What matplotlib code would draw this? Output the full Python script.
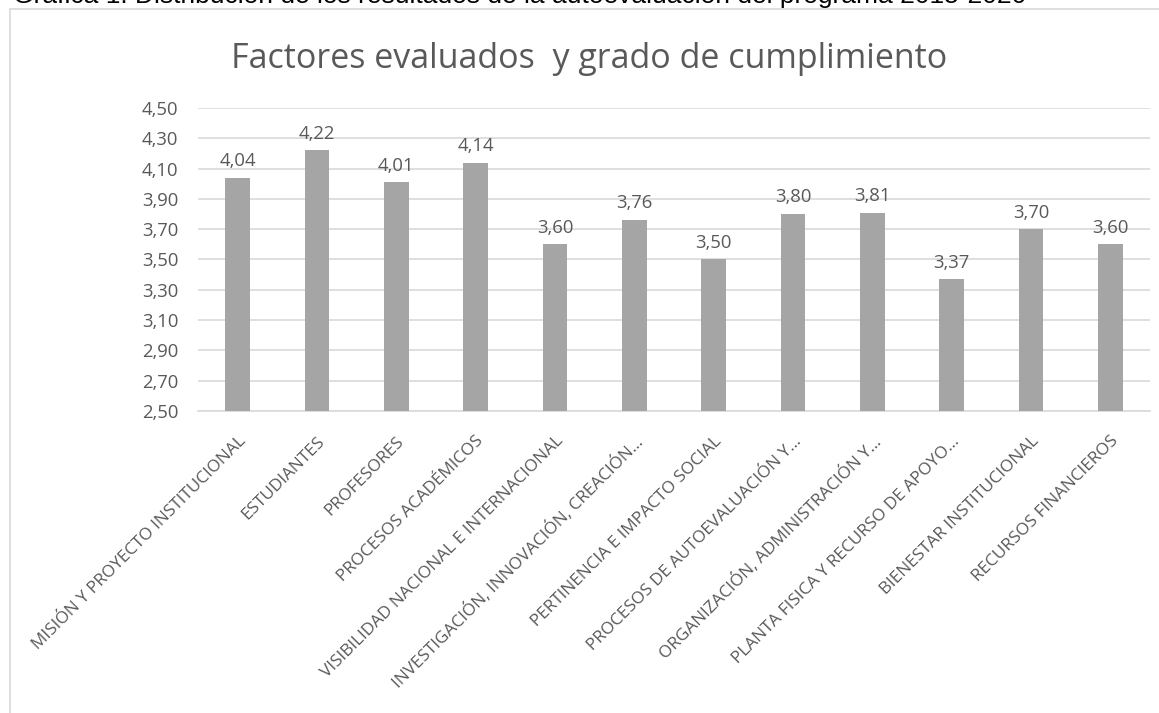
import matplotlib.pyplot as plt
from matplotlib.patches import Rectangle

# datos
factores = [
    'MISIÓN Y PROYECTO INSTITUCIONAL',
    'ESTUDIANTES',
    'PROFESORES',
    'PROCESOS ACADÉMICOS',
    'VISIBILIDAD NACIONAL E INTERNACIONAL',
    'INVESTIGACIÓN, INNOVACIÓN, CREACIÓN…',
    'PERTINENCIA E IMPACTO SOCIAL',
    'PROCESOS DE AUTOEVALUACIÓN Y…',
    'ORGANIZACIÓN, ADMINISTRACIÓN Y…',
    'PLANTA FISICA Y RECURSO DE APOYO…',
    'BIENESTAR INSTITUCIONAL',
    'RECURSOS FINANCIEROS',
]
valores = [4.04, 4.22, 4.01, 4.14, 3.60, 3.76, 3.50, 3.80, 3.81, 3.37, 3.70, 3.60]
yticks = [2.5 + 0.2 * i for i in range(11)]

titulo = 'Factores evaluados  y grado de cumplimiento'
leyenda = 'Gráfica 1. Distribución de los resultados de la autoevaluación del programa 2015-2020'

plt.rcParams['font.family'] = ['Open Sans', 'DejaVu Sans']
gris = '#595959'

fig = plt.figure(figsize=(11.59, 7.13), dpi=100)
W, H = 1159, 713

# marco del grafico
fig.patches.append(Rectangle((9.5 / W, -0.1), 1.2, 1 - 9 / H + 0.1,
                             transform=fig.transFigure, fill=False,
                             edgecolor='#d9d9d9', lw=1.2))

# leyenda superior (recortada en la imagen original)
fig.text(13 / W, 1 - 3 / H, leyenda, family='Liberation Sans', fontsize=19,
         color='black', ha='left', va='baseline')

ax = fig.add_axes([198 / W, 1 - 411 / H, (1150 - 198) / W, (411 - 108) / H])
x = range(len(factores))
bars = ax.bar(x, valores, width=0.31, color='#a5a5a5', zorder=3)
ax.set_ylim(2.5, 4.5)
ax.set_xlim(-0.5, len(factores) - 0.5)
ax.set_yticks(yticks)
ax.set_yticklabels([f'{v:.2f}'.replace('.', ',') for v in yticks])
ax.yaxis.grid(True, color='#d9d9d9', lw=1.2, zorder=0)
for s in ['top', 'right', 'left']:
    ax.spines[s].set_visible(False)
ax.spines['bottom'].set_color('#d9d9d9')
ax.spines['bottom'].set_linewidth(1.2)
ax.tick_params(length=0, labelsize=13.3, colors=gris, pad=14)
ax.tick_params(axis='x', pad=16, labelsize=12.4)
ax.set_xticks(list(x))
ax.set_xticklabels(factores, rotation=45, ha='right', va='top',
                   rotation_mode='anchor')

for b, v in zip(bars, valores):
    ax.annotate(f'{v:.2f}'.replace('.', ','), (b.get_x() + b.get_width() / 2, v),
                xytext=(0, 5.5), textcoords='offset points', ha='center',
                va='bottom', fontsize=13.3, color=gris)

fig.text(589 / W, 1 - 68 / H, titulo, fontsize=24.5, color=gris,
         ha='center', va='baseline')

fig.savefig('out.png', dpi=100, facecolor='white')
